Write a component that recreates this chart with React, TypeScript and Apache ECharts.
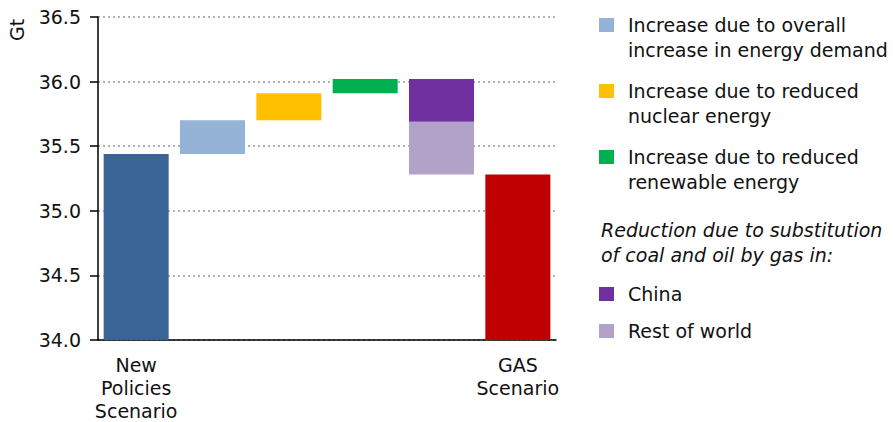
import React, { useEffect, useRef } from "react";
import * as echarts from "echarts";

const categories = ["New\nPolicies\nScenario", "", "", "", "", "GAS\nScenario"];
const newPoliciesValue = 35.44;
const increaseDemand = 0.26;
const increaseNuclear = 0.21;
const increaseRenewable = 0.11;
const reductionChina = 0.33;
const reductionRest = 0.41;
const yTicks = [34.0, 34.5, 35.0, 35.5, 36.0, 36.5];

const colors = {
  npsBar: "#3a6396",
  demand: "#95b3d7",
  nuclear: "#ffc000",
  renewable: "#00b050",
  china: "#7030a0",
  rest: "#b2a2c8",
  gas: "#c00000",
};

const legendItems = [
  { color: colors.demand, lines: ["Increase due to overall", "increase in energy demand"], y: 25 },
  { color: colors.nuclear, lines: ["Increase due to reduced", "nuclear energy"], y: 91 },
  { color: colors.renewable, lines: ["Increase due to reduced", "renewable energy"], y: 157 },
  { color: colors.china, lines: ["China"], y: 294 },
  { color: colors.rest, lines: ["Rest of world"], y: 331 },
];
const italicNote = ["Reduction due to substitution", "of coal and oil by gas in:"];

const FONT = "DejaVu Sans";

export default function App() {
  const ref = useRef<HTMLDivElement>(null);
  useEffect(() => {
    if (!ref.current) return;
    const chart = echarts.init(ref.current, undefined, { renderer: "svg" });

    const afterDemand = newPoliciesValue + increaseDemand;
    const afterNuclear = afterDemand + increaseNuclear;
    const afterRenewable = afterNuclear + increaseRenewable;
    const afterChina = afterRenewable - reductionChina;
    const gasValue = afterChina - reductionRest;

    const base = ["-", newPoliciesValue, afterDemand, afterNuclear, gasValue, "-"];
    const mk = (idx: number, v: number) => categories.map((_, i) => (i === idx ? v : "-"));

    const barW = 65;
    const stack = "w";
    const series: any[] = [
      { name: "base", type: "bar", stack, barWidth: barW, data: base, itemStyle: { color: "transparent" }, silent: true },
      { name: "nps", type: "bar", stack, barWidth: barW, data: mk(0, newPoliciesValue), itemStyle: { color: colors.npsBar } },
      { name: "demand", type: "bar", stack, barWidth: barW, data: mk(1, increaseDemand), itemStyle: { color: colors.demand } },
      { name: "nuclear", type: "bar", stack, barWidth: barW, data: mk(2, increaseNuclear), itemStyle: { color: colors.nuclear } },
      { name: "renewable", type: "bar", stack, barWidth: barW, data: mk(3, increaseRenewable), itemStyle: { color: colors.renewable } },
      { name: "rest", type: "bar", stack, barWidth: barW, data: mk(4, reductionRest), itemStyle: { color: colors.rest } },
      { name: "china", type: "bar", stack, barWidth: barW, data: mk(4, reductionChina), itemStyle: { color: colors.china } },
      { name: "gas", type: "bar", stack, barWidth: barW, data: mk(5, gasValue), itemStyle: { color: colors.gas } },
    ];

    const graphics: any[] = [];
    legendItems.forEach((it) => {
      graphics.push({ type: "rect", left: 599, top: it.y - 7, shape: { width: 15, height: 14 }, style: { fill: it.color } });
      it.lines.forEach((ln, k) => {
        graphics.push({
          type: "text",
          x: 628,
          y: it.y + k * 25,
          style: { text: ln, font: `19px '${FONT}'`, fill: "#111", textVerticalAlign: "middle", textAlign: "left" },
        });
      });
    });
    italicNote.forEach((ln, k) => {
      graphics.push({
        type: "text",
        x: 601,
        y: 230 + k * 25,
        style: { text: ln, font: `italic 19px '${FONT}'`, fill: "#111", textVerticalAlign: "middle", textAlign: "left" },
      });
    });
    graphics.push({
      type: "text",
      x: 17,
      y: 30,
      rotation: Math.PI / 2,
      style: { text: "Gt", font: `19px '${FONT}'`, fill: "#111", textAlign: "center", textVerticalAlign: "middle" },
    });

    chart.setOption({
      animation: false,
      grid: { left: 98, right: 337, top: 17, bottom: 79, containLabel: false },
      xAxis: {
        type: "category",
        data: categories,
        axisLine: { lineStyle: { color: "#000", width: 1.5 } },
        axisTick: { show: false },
        axisLabel: { fontFamily: FONT, fontSize: 19, color: "#111", lineHeight: 23, margin: 13, interval: 0 },
      },
      yAxis: {
        type: "value",
        min: yTicks[0],
        max: yTicks[yTicks.length - 1],
        interval: 0.5,
        axisLine: { show: true, lineStyle: { color: "#000", width: 1.5 } },
        axisTick: { show: true, length: 8, lineStyle: { color: "#000", width: 1.5 } },
        axisLabel: {
          fontFamily: FONT,
          fontSize: 19,
          color: "#111",
          margin: 17,
          padding: [4, 0, 0, 0],
          formatter: (v: number) => v.toFixed(1),
        },
        splitLine: { show: true, lineStyle: { color: "#999", type: [2, 3], width: 1.5 } },
      },
      series,
      graphic: graphics,
    });
    return () => chart.dispose();
  }, []);
  return <div ref={ref} style={{ width: 893, height: 422, position: "absolute", left: 0, top: 0 }} />;
}
